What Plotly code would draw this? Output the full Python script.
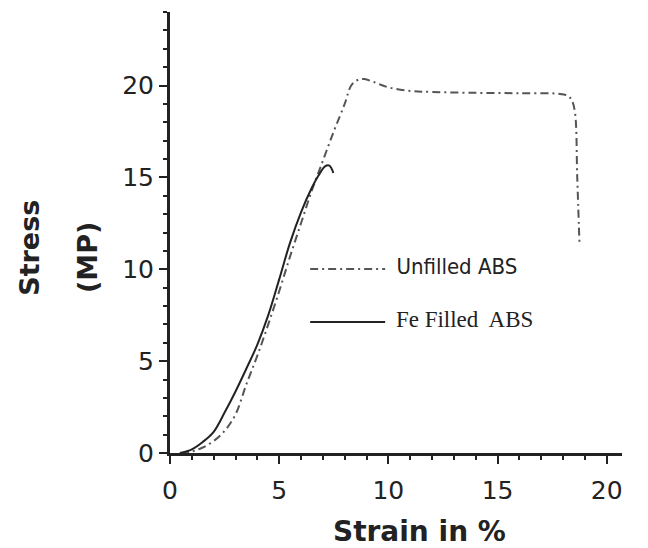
import plotly.graph_objects as go

# Unfilled ABS (dash-dot)
unfilled_strain = [0.5, 1.0, 1.5, 2.0, 2.5, 3.0, 3.5, 4.0, 4.5, 5.0, 5.5, 6.0, 6.5, 7.0, 7.5,
                   8.0, 8.3, 8.6, 8.9, 9.3, 10.0, 11.0, 12.0, 14.0, 16.0, 17.8, 18.2, 18.4,
                   18.55, 18.65, 18.75]
unfilled_stress = [0.0, 0.08, 0.3, 0.65, 1.2, 2.1, 3.75, 5.3, 7.0, 8.8, 10.7, 12.5, 14.3, 15.9, 17.5,
                   19.0, 20.0, 20.3, 20.35, 20.2, 19.9, 19.7, 19.65, 19.6, 19.58, 19.55, 19.45, 19.2,
                   18.5, 15.0, 11.5]

# Fe Filled ABS (solid)
fe_strain = [0.45, 1.0, 1.5, 2.0, 2.5, 3.0, 3.5, 4.0, 4.5, 5.0, 5.5, 6.0, 6.5, 6.8, 7.1, 7.3, 7.48]
fe_stress = [0.0, 0.2, 0.6, 1.15, 2.2, 3.35, 4.6, 5.9, 7.5, 9.45, 11.45, 13.1, 14.45, 15.1, 15.6,
             15.64, 15.24]

x_tick_vals = [0, 5, 10, 15, 20]
y_tick_vals = [0, 5, 10, 15, 20]

AX = "#222222"

fig = go.Figure()
fig.add_trace(go.Scatter(
    x=unfilled_strain, y=unfilled_stress, mode="lines", line_shape="spline",
    name="<span style='font-family:\"DejaVu Sans Condensed\", \"DejaVu Sans\"; font-size:22px'>&nbsp;Unfilled ABS</span>",
    line=dict(color="#555555", width=2, dash="8px,4px,2px,4px"),
    legendgroup="a"))
fig.add_trace(go.Scatter(
    x=fe_strain, y=fe_stress, mode="lines", line_shape="spline",
    name="<span style='font-family:\"Liberation Serif\"; font-size:23px'>&nbsp;Fe Filled&nbsp; ABS</span>",
    line=dict(color="#222222", width=2),
    legendgroup="b"))

common_x = dict(range=[0, 20.7], tickvals=x_tick_vals, ticklen=8, tickwidth=2, tickcolor=AX,
                minor=dict(dtick=1, tick0=0, ticklen=4, tickwidth=2, tickcolor=AX),
                showgrid=False, zeroline=False, fixedrange=True)
common_y = dict(range=[0, 24], tickvals=y_tick_vals, ticklen=8, tickwidth=2, tickcolor=AX,
                minor=dict(dtick=1, tick0=0, ticklen=4, tickwidth=2, tickcolor=AX),
                showgrid=False, zeroline=False, fixedrange=True)

fig.update_layout(
    width=648, height=548,
    margin=dict(l=170, r=26, t=12, b=95),
    paper_bgcolor="white", plot_bgcolor="white",
    font=dict(family="DejaVu Sans", color=AX),
    xaxis=dict(**common_x, ticks="outside", showline=True, linecolor=AX, linewidth=3,
               tickfont=dict(size=25, color=AX), ticklabelstandoff=5),
    yaxis=dict(**common_y, ticks="outside", showline=True, linecolor=AX, linewidth=3,
               tickfont=dict(size=25, color=AX)),
    xaxis2=dict(**common_x, overlaying="x", anchor="y", ticks="inside", showline=False,
                showticklabels=False),
    yaxis2=dict(**common_y, overlaying="y", anchor="x", ticks="inside", showline=False,
                showticklabels=False),
    showlegend=True,
    legend=dict(x=0.299, y=0.45, xanchor="left", yanchor="top", bgcolor="rgba(0,0,0,0)",
                itemwidth=75, tracegroupgap=34, font=dict(color=AX)),
    annotations=[
        dict(text="<b>Strain in %</b>", xref="paper", yref="paper", x=0.553, y=-0.177,
             xanchor="center", yanchor="middle", showarrow=False,
             font=dict(size=28, family="DejaVu Sans", color=AX)),
        dict(text="<b>Stress</b>", xref="paper", yref="paper", x=-0.31, y=0.465,
             xanchor="center", yanchor="middle", showarrow=False, textangle=-90,
             font=dict(size=27, family="DejaVu Sans", color=AX)),
        dict(text="<b>(MP)</b>", xref="paper", yref="paper", x=-0.184, y=0.444,
             xanchor="center", yanchor="middle", showarrow=False, textangle=-90,
             font=dict(size=27, family="DejaVu Sans", color=AX)),
    ],
)

fig.write_html("out.html", config={"displayModeBar": False},
               post_script="document.body.style.margin='0';")
